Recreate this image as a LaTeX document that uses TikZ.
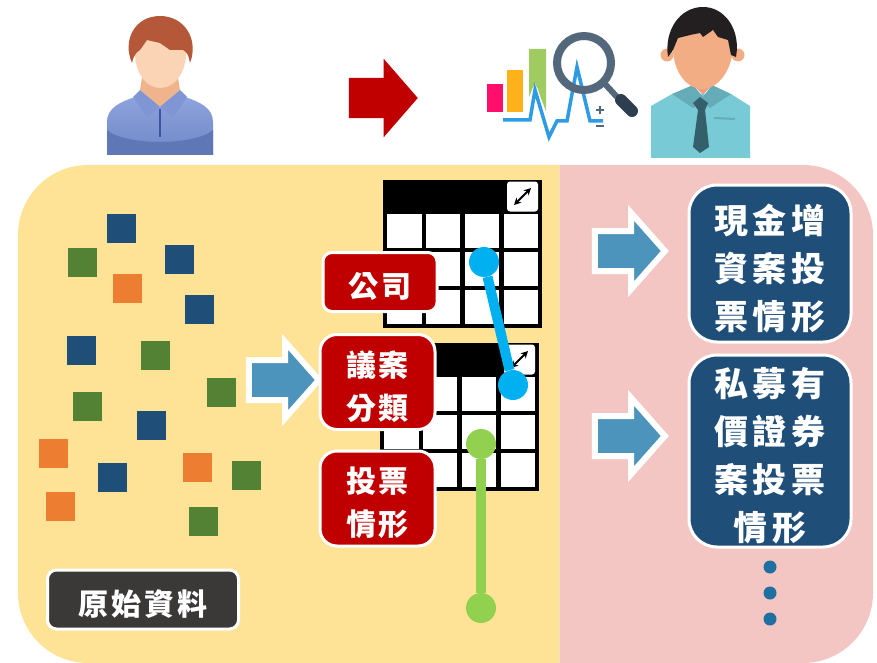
\documentclass[tikz,border=0pt]{standalone}
\usepackage{fontspec}
\usepackage{xcolor}
\usetikzlibrary{shapes.arrows,arrows.meta}
\newfontfamily\cjk{Noto Sans CJK TC}
\newcommand{\tallrule}{\rule{0pt}{1.15em}}
\definecolor{paneyellow}{HTML}{FEE296}
\definecolor{panepink}{HTML}{F4C6C3}
\definecolor{navybox}{HTML}{1F4E79}
\definecolor{redbox}{HTML}{C00000}
\definecolor{darkbox}{HTML}{3B3838}
\definecolor{arrowblue}{HTML}{4C94BC}
\definecolor{squareblue}{HTML}{1F4E79}
\definecolor{squaregreen}{HTML}{548235}
\definecolor{squareorange}{HTML}{ED7D31}
\definecolor{lineblue}{HTML}{00B0F0}
\definecolor{linegreen}{HTML}{92D050}
\definecolor{dotblue}{HTML}{1F6FA0}
\definecolor{shirtblue}{HTML}{8DA3DC}
\definecolor{shirtlow}{HTML}{7087C8}
\definecolor{shirtband}{HTML}{5F76B7}
\definecolor{collarblue}{HTML}{7F95D4}
\definecolor{placket}{HTML}{3F51A8}
\definecolor{skinlight}{HTML}{FBD3B5}
\definecolor{necklight}{HTML}{F0B48C}
\definecolor{hairbrown}{HTML}{B5583A}
\definecolor{shirtteal}{HTML}{78CBD6}
\definecolor{collarteal}{HTML}{66ABB8}
\definecolor{tieteal}{HTML}{33606B}
\definecolor{skintan}{HTML}{F3AD84}
\definecolor{necktan}{HTML}{E8A283}
\definecolor{hairblack}{HTML}{231F20}
\definecolor{barpink}{HTML}{FF0F6B}
\definecolor{barorange}{HTML}{FFB11B}
\definecolor{bargreen}{HTML}{9FCB60}
\definecolor{pulseblue}{HTML}{2F9BE5}
\definecolor{lensgray}{HTML}{53687B}
\definecolor{handledark}{HTML}{2C3E50}
\tikzset{
  square/.style={minimum size=29,inner sep=0,outer sep=0},
  label/.style={draw=white,line width=3,text=white,inner sep=0,align=center},
  smallfont/.style={font=\cjk\bfseries\fontsize{30}{43}\selectfont\addfontfeature{LetterSpace=9}},
  bigfont/.style={font=\cjk\bfseries\fontsize{34}{48}\selectfont\addfontfeature{LetterSpace=14}},
  blockarrow/.style={single arrow,draw=white,line width=6,fill=arrowblue,inner xsep=0,inner ysep=17,
    minimum height=70,minimum width=70,single arrow head extend=18,single arrow tip angle=97},
  dotmark/.style={circle,fill=#1,minimum size=30,inner sep=0},
  smalldot/.style={circle,fill=dotblue,minimum size=13,inner sep=0},
}
\begin{document}
\begin{tikzpicture}[x=1pt,y=-1pt]
    \useasboundingbox (0,0) rectangle (877,663);
    % Panes
    \fill[paneyellow] (559.5,165) [rounded corners=70] -- (18,165) -- (18,663) [sharp corners] -- (559.5,663) -- cycle;
    \fill[panepink] (559.5,165) [rounded corners=70] -- (873,165) -- (873,663) [sharp corners] -- (559.5,663) -- cycle;
    % Left person
    \path[top color=shirtblue,bottom color=shirtlow] (107,155) -- (107,122) .. controls (107,108) and (120,102) .. (135,97) -- (185,97)
      .. controls (200,102) and (213,108) .. (213,122) -- (213,155) -- cycle;
    \fill[shirtband] (107,155) -- (107,130) .. controls (125,146) and (195,146) .. (213,130) -- (213,155) -- cycle;
    \fill[necklight] (143,72) -- (177,72) -- (180,90) -- (160,107) -- (140,90) -- cycle;
    \fill[collarblue] (133,97) -- (140,90) -- (160,107) -- (147,117) -- cycle;
    \fill[collarblue] (187,97) -- (180,90) -- (160,107) -- (173,117) -- cycle;
    \draw[placket,line width=2.5] (160,109) -- (160,137);
    \fill[skinlight] (135,50) .. controls (134,72) and (146,88) .. (160,88) .. controls (175,88) and (187,72) .. (186,50)
      .. controls (180,32) and (140,32) .. (135,50) -- cycle;
    \fill[hairbrown] (132,63) .. controls (122,40) and (135,16) .. (160,16) .. controls (185,16) and (199,40) .. (190,63)
      .. controls (189,56) and (187,52) .. (183,50) -- (170,50) -- (160,43) -- (147,40) -- (140,50) .. controls (136,52) and (133,57) .. (132,63) -- cycle;
    % Middle arrow
    \node[single arrow,fill=redbox,inner xsep=0,inner ysep=20,minimum height=69,minimum width=78,
      single arrow head extend=19,single arrow tip angle=98] (toparrow) at (374.5,98) {};
    % Chart
    \fill[barpink] (487,84) rectangle (503,112);
    \fill[barorange] (507,70) rectangle (523,112);
    \fill[bargreen] (529,49) -- (546,49) -- (546,111) -- (535,83) -- (529,97) -- cycle;
    \draw[white,line width=6,line join=round] (503,120) -- (530,120) -- (535,90) -- (549,137) -- (557,121) -- (567,121) -- (577,67) -- (590,121) -- (603,121);
    \draw[pulseblue,line width=3.5] (503,120) -- (530,120) -- (535,90) -- (549,137) -- (557,121) -- (567,121) -- (577,67) -- (590,121) -- (603,121);
    \draw[lensgray,line width=8] (584,63) circle (27);
    \draw[lensgray,line width=6] (605,84) -- (617,97);
    \draw[handledark,line width=12,line cap=round] (621,100) -- (632,111);
    \draw[lensgray,line width=2] (596,110) -- (604,110) (600,106) -- (600,114) (596,126) -- (604,126);
    % Right person
    \fill[shirtteal] (651,158) -- (651,106) -- (672,94) -- (731,94) -- (750,106) -- (750,158) -- cycle;
    \fill[necktan] (690,72) -- (714,72) -- (712,85) -- (703,95) -- (693,85) -- cycle;
    \fill[collarteal] (672,94) -- (693,85) -- (703,97) -- (712,85) -- (731,94) -- (710,108) -- (703,102) -- (693,108) -- cycle;
    \fill[skintan] (667,55) circle (6.5) (738,55) circle (6.5);
    \fill[skintan] (673,45) .. controls (672,70) and (686,89) .. (702,89) .. controls (718,89) and (733,70) .. (733,45)
      .. controls (730,25) and (680,25) .. (673,45) -- cycle;
    \fill[hairblack] (668,57) .. controls (664,30) and (680,7) .. (703,7) .. controls (725,7) and (741,30) .. (736,57)
      -- (731,55) -- (728,40) -- (718,37) -- (713,30) -- (703,37) -- (700,33) -- (690,35) -- (678,38) -- (673,50) -- cycle;
    \fill[tieteal] (693,103) -- (700,97) -- (708,103) -- (705,110) -- (709,147) -- (700,153) -- (693,147) -- (698,110) -- cycle;
    \draw[collarteal,line width=2] (714,118) -- (735,119);
    % Squares
    \foreach \x/\y [count=\i] in {121/228,179/259,199/309,81/350,151/425,112/477}
      \node[square,fill=squareblue] (blue\i) at (\x,\y) {};
    \foreach \x/\y [count=\i] in {82/262,155/355,221/392,87/406,246/475,203/521}
      \node[square,fill=squaregreen] (green\i) at (\x,\y) {};
    \foreach \x/\y [count=\i] in {127/288,53/453,197/467,60/506}
      \node[square,fill=squareorange] (orange\i) at (\x,\y) {};
    % Tables
    \foreach \ox/\oy in {383/180,380/343} {
      \fill[black] (\ox,\oy) rectangle ++(159,148);
      \foreach \c in {0,1,2,3}
        \foreach \r in {0,1,2}
          \fill[white] ({\ox+4+38.9*\c},{\oy+33.5+38.3*\r}) rectangle ++(34.5,34);
      \fill[white,rounded corners=3] (\ox+124,\oy+1.5) rectangle ++(31,30);
      \draw[{Stealth[length=7,width=7]}-{Stealth[length=7,width=7]},line width=2] (\ox+131,\oy+25) -- (\ox+148,\oy+8);
    }
    % Arrows
    \node[blockarrow] (inarrow) at (275,380) {};
    \node[blockarrow] (outarrowA) at (621,251) {};
    \node[blockarrow] (outarrowB) at (621,436) {};
    % Labels
    \node[label,fill=redbox,smallfont,rounded corners=9,minimum width=114,minimum height=59] (company) at (380,282) {\tallrule 公司};
    \node[label,fill=redbox,smallfont,rounded corners=17,minimum width=115,minimum height=95] (topic) at (377.5,382) {\tallrule 議案\\分類};
    \node[label,fill=redbox,smallfont,rounded corners=17,minimum width=115,minimum height=95] (vote) at (377.5,498.5) {\tallrule 投票\\情形};
    \node[label,fill=darkbox,smallfont,rounded corners=9,minimum width=191,minimum height=59] (rawdata) at (143,599.5) {\tallrule 原始資料};
    \node[label,fill=navybox,bigfont,rounded corners=28,minimum width=162,minimum height=157] (cash) at (770,263.5) {\tallrule 現金增\\資案投\\票情形};
    \node[label,fill=navybox,bigfont,rounded corners=28,minimum width=162,minimum height=192] (private) at (770,451) {\tallrule 私募有\\價證券\\案投票\\情形};
    % Dots
    \node[smalldot] (dotA) at (770,567) {};
    \node[smalldot] (dotB) at (770,593) {};
    \node[smalldot] (dotC) at (770,619) {};
    % Connectors
    \node[dotmark=lineblue] (blueA) at (484,262) {};
    \node[dotmark=lineblue] (blueB) at (513,385) {};
    \draw[lineblue,line width=10] (blueA) -- (blueB);
    \node[dotmark=linegreen] (greenA) at (481,444) {};
    \node[dotmark=linegreen] (greenB) at (481,608) {};
    \draw[linegreen,line width=10] (greenA) -- (greenB);
\end{tikzpicture}
\end{document}
